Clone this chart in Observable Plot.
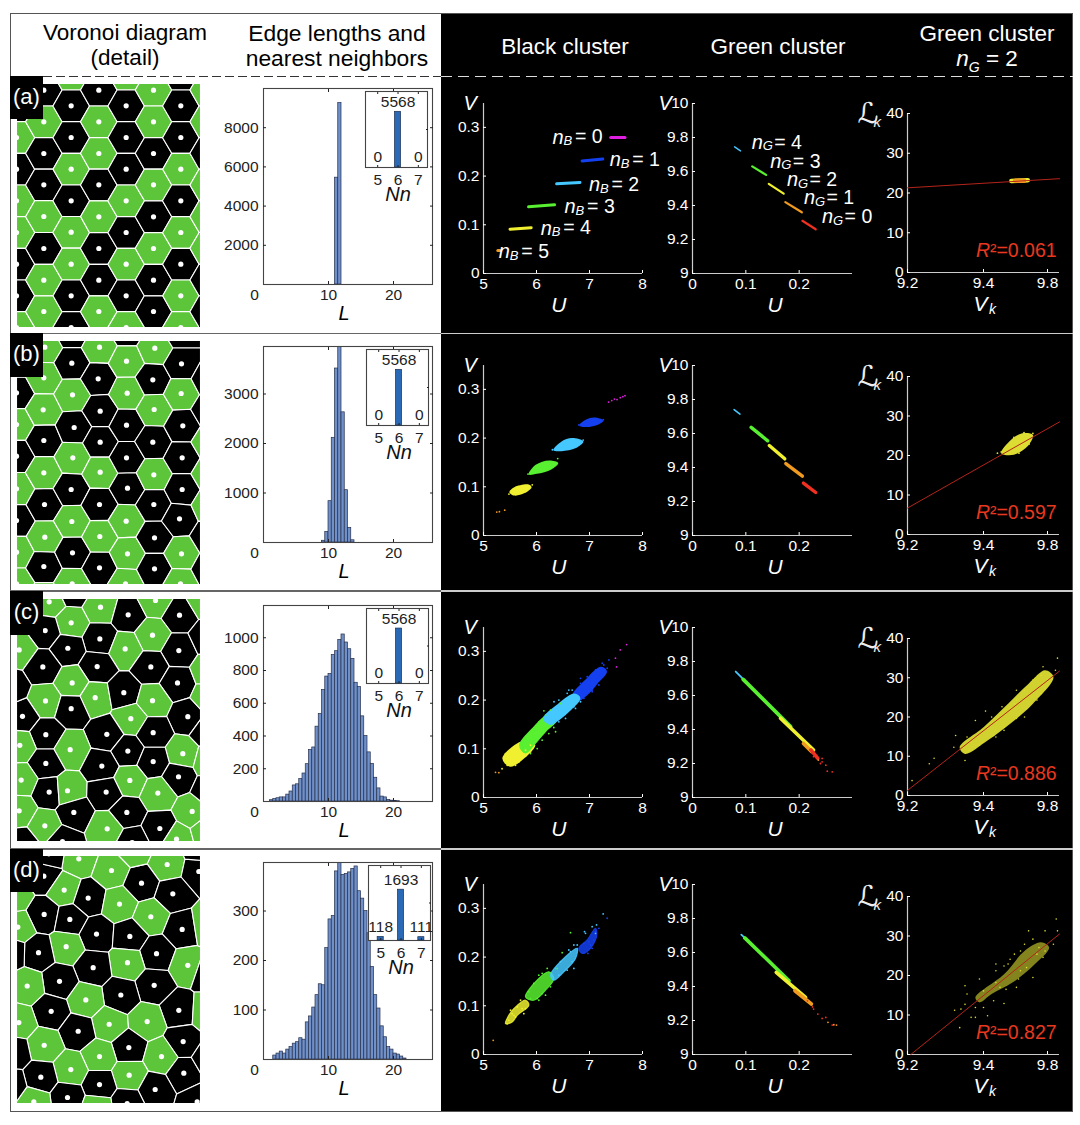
<!DOCTYPE html>
<html><head><meta charset="utf-8">
<script src="https://cdn.jsdelivr.net/npm/d3@7"></script>
<script src="https://cdn.jsdelivr.net/npm/@observablehq/plot@0.6"></script>
<style>
html,body{margin:0;padding:0;background:#fff}
#fig{position:relative;width:1080px;height:1125px;overflow:hidden;font-family:"Liberation Sans",Arial,sans-serif}
#fig>svg{position:absolute}
.box{position:absolute}
.hd{position:absolute;text-align:center;font-size:22.5px;line-height:25px;transform:translateX(-50%);white-space:nowrap}
.tag{position:absolute;left:10px;width:33px;background:#000;color:#fff;font-size:22px;text-align:center;padding-top:8px;box-sizing:border-box}
sub{font-size:14px;line-height:0}
</style></head><body><div id="fig"></div>
<script>
/* ---------- Voronoi seeds: [x, y, cluster] ---------- */
const seedsA=[[48,315,"B"],[48,410,"G"],[48,505,"B"],[48,600,"G"],[48,695,"G"],[48,790,"B"],[48,885,"B"],[48,980,"G"],
[130,268,"B"],[130,363,"G"],[130,458,"B"],[130,552,"B"],[130,647,"G"],[130,743,"B"],[130,838,"G"],[130,932,"G"],
[212,220,"G"],[212,315,"B"],[212,410,"B"],[212,505,"G"],[212,600,"B"],[212,694,"G"],[212,790,"G"],[212,885,"B"],[212,980,"B"],
[295,268,"B"],[295,363,"G"],[295,458,"G"],[295,552,"B"],[295,648,"G"],[295,743,"B"],[295,838,"B"],[295,932,"G"],
[377,220,"G"],[377,315,"B"],[377,410,"B"],[377,505,"B"],[377,600,"G"],[377,695,"B"],[377,790,"G"],[377,885,"B"],[377,980,"G"],
[459,268,"G"],[459,363,"G"],[459,458,"B"],[459,552,"G"],[459,648,"B"],[459,743,"G"],[459,838,"B"],[459,932,"B"],
[541,220,"B"],[541,315,"B"],[541,410,"B"],[541,505,"G"],[541,600,"B"],[541,695,"G"],[541,790,"B"],[541,885,"G"],[541,980,"G"],
[623,268,"G"],[623,363,"G"],[623,458,"B"],[623,552,"G"],[623,647,"G"],[623,743,"G"],[623,838,"B"],[623,932,"B"]];
const seedsB=[[48,78,"G"],[48,172,"B"],[48,267,"G"],[48,362,"B"],[48,460,"G"],[48,555,"B"],[48,650,"G"],[48,745,"G"],
[133,35,"G"],[130,127,"G"],[128,223,"G"],[130,315,"B"],[130,412,"G"],[132,507,"B"],[133,605,"G"],[130,693,"B"],[130,790,"G"],
[214,-10,"B"],[214,83,"B"],[216,178,"G"],[221,276,"B"],[217,367,"G"],[212,462,"B"],[214,558,"G"],[216,652,"B"],[215,745,"G"],
[297,35,"G"],[293,130,"B"],[299,227,"B"],[299,320,"B"],[299,410,"G"],[297,507,"B"],[298,603,"G"],[297,697,"B"],
[378,-15,"B"],[378,77,"G"],[380,173,"G"],[378,269,"B"],[378,367,"B"],[381,458,"B"],[377,557,"G"],[381,655,"G"],[375,745,"G"],
[463,38,"G"],[457,133,"B"],[461,222,"G"],[457,320,"B"],[460,418,"G"],[460,507,"B"],[462,607,"B"],[462,700,"B"],
[543,-10,"B"],[543,85,"B"],[542,174,"G"],[547,271,"B"],[545,367,"B"],[545,462,"B"],[537,550,"B"],[543,655,"G"],[540,745,"G"],
[625,130,"B"],[625,225,"B"],[625,320,"G"],[625,415,"G"],[625,510,"G"],[625,605,"B"],[625,700,"B"]];
const seedsC=[[146,34,"G"],[300,50,"G"],[383,73,"B"],[465,30,"G"],[537,74,"B"],[212,97,"G"],[134,120,"B"],[298,145,"B"],[456,134,"G"],[202,173,"B"],[374,175,"G"],[535,180,"B"],[56,178,"G"],[127,229,"B"],[290,228,"B"],[451,229,"B"],[215,277,"G"],[531,277,"B"],[135,331,"G"],[284,321,"G"],[370,306,"B"],[456,330,"G"],[212,354,"B"],[66,377,"B"],[391,384,"G"],[562,378,"B"],[136,432,"B"],[319,431,"B"],[458,426,"B"],[58,464,"G"],[209,477,"G"],[382,481,"B"],[547,489,"G"],[136,518,"B"],[304,526,"B"],[458,513,"B"],[62,568,"G"],[534,558,"B"],[388,569,"G"],[146,604,"B"],[201,600,"G"],[317,604,"B"],[472,607,"G"],[575,662,"G"],[56,660,"G"],[220,665,"B"],[379,665,"B"],[133,705,"G"],[320,714,"G"],[478,713,"B"],[528,745,"G"],[186,752,"B"],[395,755,"B"],[65,760,"B"],[218,0,"B"],
[620,140,"B"],[625,240,"G"],[625,320,"G"],[620,420,"B"],[625,510,"G"],[625,600,"B"],[620,720,"G"],[30,290,"B"],[30,70,"B"],[610,30,"G"]];
const seedsD=[[235,40,"G"],[333,75,"G"],[500,57,"G"],[595,78,"B"],[423,113,"B"],[130,92,"B"],[191,134,"G"],[517,145,"B"],[263,158,"B"],[357,176,"G"],[131,207,"B"],[208,222,"B"],[451,214,"G"],[52,245,"G"],[288,266,"B"],[388,273,"B"],[545,252,"B"],[197,304,"G"],[114,322,"B"],[468,325,"B"],[381,352,"G"],[562,360,"G"],[278,367,"B"],[177,408,"B"],[80,422,"G"],[461,420,"B"],[361,449,"B"],[256,464,"G"],[535,495,"B"],[152,498,"B"],[55,532,"G"],[326,537,"G"],[440,529,"G"],[233,558,"B"],[548,589,"B"],[131,600,"G"],[385,607,"B"],[483,634,"G"],[297,634,"G"],[211,673,"G"],[386,690,"G"],[121,696,"B"],[550,684,"B"],[297,718,"B"],[464,733,"B"],[201,757,"B"],[100,770,"G"],[380,775,"B"],[290,790,"G"],[590,770,"B"],
[40,620,"B"],[30,720,"B"],[620,240,"G"],[620,380,"B"],[620,500,"G"],[625,640,"B"],[400,10,"G"],[40,150,"G"],[30,320,"B"],[145,25,"B"],[600,10,"B"]];
const voronoiExtent={A:[248,980],B:[15,747],C:[24,752],D:[30,775]};

/* ---------- Edge-length histograms (counts per 0.5-wide bin, by bin start) ---------- */
const binWidth=0.5;
const histA={start:11,counts:[5450,9260]};
const histB={start:9,counts:[35,215,835,2115,3515,3970,2630,1057,296,45]};
const histC={start:1,counts:[8,15,20,25,25,42,61,98,105,137,171,228,314,330,457,534,681,763,779,895,918,987,1020,971,930,871,725,700,520,400,300,230,145,80,30,25,10,5,3,2]};
const histD={start:1.5,counts:[8,12,16,12,20,25,32,35,43,40,75,87,105,130,152,150,225,283,290,380,400,373,375,378,385,390,340,325,300,255,187,130,103,67,45,25,20,12,10,6,2]};
const histTicksA=[2000,4000,6000,8000], histTicksB=[1000,2000,3000], histTicksC=[200,400,600,800,1000], histTicksD=[100,200,300];
const histMax=[10000,3960,1197,398];

/* ---------- Nearest-neighbour insets ---------- */
const nnCategories=[5,6,7];
const nnA=[0,5568,0], nnB=[0,5568,0], nnC=[0,5568,0], nnD=[118,1693,111];
const nnMax=[7600,7600,7600,2500];

/* ---------- Cluster colours ---------- */
const palette={m:"#e020e0",b:"#1440f0",c:"#45c8ff",g:"#58f030",y:"#f0f030",o:"#f09a20",r:"#f03020",ly:"#dcdc32"};

/* ---------- Black cluster (U,V): streaks [cluster,U1,V1,U2,V2], blobs, stragglers [cluster,U,V] ---------- */
const blackStreakA=[["m",7.40,.279,7.67,.279],["b",6.86,.231,7.25,.235],["c",6.38,.184,6.82,.187],["g",5.85,.137,6.34,.141],["y",5.50,.091,5.90,.094],["o",5.27,.047,5.31,.047]];
const blackBlobsB={b:[[6.806,.226],[6.938,.238],[7.093,.242],[7.264,.236],[7.171,.228],[6.938,.2226]],
 c:[[6.318,.175],[6.473,.193],[6.667,.2],[6.884,.193],[6.744,.1795],[6.473,.173]],
 g:[[5.853,.1253],[5.984,.145],[6.24,.154],[6.41,.149],[6.28,.1356],[6.008,.1267]],
 y:[[5.488,.089],[5.581,.0993],[5.853,.1048],[5.907,.0993],[5.775,.087],[5.581,.082]]};
const blackDotsB=[["m",7.36,.274],["m",7.42,.277],["m",7.47,.280],["m",7.52,.279],["m",7.58,.283],["m",7.63,.285],["m",7.67,.287],["o",5.25,.048],["o",5.30,.049],["o",5.40,.052],["g",6.40,.158],["g",5.84,.126],["y",5.48,.085],["y",5.92,.104],["c",6.30,.176],["c",6.88,.196],["b",6.80,.227],["b",7.26,.238]];
const blackBlobsC={y:[[5.384,.080],[5.541,.1004],[5.793,.114],[5.95,.1073],[5.793,.0867],[5.51,.0661]],
 g:[[5.70,.1073],[5.95,.1416],[6.233,.1691],[6.359,.1588],[6.17,.1382],[5.95,.1107],[5.793,.0936]],
 b:[[6.705,.2103],[6.925,.2378],[7.208,.2653],[7.302,.2584],[7.145,.2378],[6.988,.2172],[6.768,.2]],
 c:[[6.151,.1623],[6.422,.1897],[6.705,.2103],[6.80,.2035],[6.642,.1829],[6.422,.1623],[6.265,.152]]};
const blackDotsC=[["m",7.49,.286],["m",7.58,.303],["m",7.70,.314],["m",7.51,.268],["o",5.227,.0516],["o",5.29,.051],["g",6.14,.178],["g",6.36,.135],["g",6.453,.193],["y",5.415,.09],["y",5.447,.066],["y",5.667,.073],["y",5.887,.0935],["y",5.35,.059],["y",5.573,.0764],["b",7.366,.2825],["b",7.27,.272],["b",7.177,.248],["b",6.83,.2447],["b",7.05,.2207],["b",6.925,.2103],["c",6.61,.2206],["c",6.33,.1966],["c",6.705,.1863],
["y",5.478,.0867],["y",5.604,.066],["y",5.699,.0832],["y",5.793,.097],["y",5.415,.0729],["y",5.541,.0936],["y",5.51,.0764],["y",5.887,.1073],
["g",5.793,.121],["g",5.919,.1382],["g",6.044,.1554],["g",6.17,.1691],["g",6.265,.1794],["g",6.107,.1176],["g",6.233,.1313],["g",6.013,.1004],["g",6.327,.1437],["g",5.887,.0901],
["c",6.422,.2],["c",6.579,.2138],["c",6.673,.2206],["c",6.548,.1623],["c",6.736,.1829],["c",6.831,.1966],["c",6.422,.1554],
["b",6.831,.2344],["b",6.956,.2481],["b",7.114,.2619],["b",7.24,.2756],["b",7.177,.231],["b",7.05,.2172],["b",6.894,.2035],["b",7.334,.2653]];
const blackBlobsD={y:[[5.415,.0633],[5.478,.0805],[5.573,.0942],[5.793,.1114],[5.856,.1011],[5.636,.0805],[5.541,.0667]],
 g:[[5.793,.1183],[6.044,.1561],[6.233,.1698],[6.327,.1561],[6.17,.132],[5.95,.1114]],
 c:[[6.265,.1629],[6.548,.2007],[6.768,.2179],[6.736,.1973],[6.516,.1698],[6.327,.1526]],
 b:[[6.799,.2179],[6.956,.2351],[7.114,.2591],[7.133,.2419],[6.988,.2145],[6.862,.2076]]};
const blackDotsD=[["o",5.183,.029],["c",7.258,.2886],["b",7.334,.2797],["c",7.133,.266],["c",6.906,.2522],["g",6.642,.2502],["g",6.485,.209],["b",7.05,.2179],["b",6.969,.2076],["c",6.705,.2248],["c",6.61,.2145],["g",6.044,.1114],["y",5.51,.0908],["y",5.761,.0839],["y",5.447,.0633],["y",5.699,.1114],["g",6.107,.1664],["c",6.705,.1767],["g",6.39,.1767],
["y",5.478,.0702],["y",5.541,.0839],["y",5.604,.077],["y",5.636,.0977],["y",5.73,.0942],["y",5.793,.0942],["y",5.573,.0805],
["g",5.856,.1286],["g",5.95,.1458],["g",6.044,.1629],["g",6.202,.1767],["g",6.265,.1389],["g",6.17,.1217],["g",6.013,.1148],["g",6.107,.1251],["g",5.887,.1148],
["c",6.359,.1767],["c",6.453,.1904],["c",6.642,.211],["c",6.673,.1904],["c",6.579,.1732],["c",6.422,.1629],["c",6.768,.2248],["c",6.925,.2488],["c",7.05,.2625],["c",7.114,.2488],
["b",6.894,.2282],["b",6.988,.2316],["b",7.082,.235],["b",7.019,.2248],["b",7.177,.2591],["b",7.114,.2522]];

/* ---------- Green cluster (U,V) streaks and stragglers ---------- */
const greenStreakA=[["c",.079,9.745,.090,9.721],["g",.112,9.63,.138,9.58],["y",.143,9.527,.171,9.47],["o",.174,9.42,.205,9.36],["r",.206,9.31,.231,9.26]];
const greenStreakB=[["c",.078,9.741,.089,9.714],["g",.110,9.636,.141,9.557],["y",.144,9.529,.173,9.451],["o",.175,9.423,.206,9.349],["r",.208,9.308,.231,9.253]];
const greenStreakC=[["c",.081,9.741,.098,9.688],["g",.095,9.695,.184,9.417],["y",.165,9.466,.227,9.279],["o",.208,9.318,.223,9.27],["r",.222,9.28,.235,9.23]];
const greenStreakD=[["c",.0915,9.705,.098,9.686],["g",.098,9.686,.181,9.434],["y",.157,9.483,.212,9.336],["o",.192,9.375,.223,9.297]];
const greenDotsC=[["r",.243,9.21],["r",.2527,9.155],["r",.262,9.151],["r",.243,9.23],["r",.227,9.24],["r",.25,9.19],["o",.236,9.22],["r",.24,9.2]];
const greenDotsD=[["r",.227,9.267],["r",.243,9.212],["o",.254,9.189],["r",.262,9.173],["o",.27,9.173],["r",.25,9.218],["r",.2155,9.316],["r",.235,9.238],["o",.265,9.175],["r",.225,9.28]];

/* ---------- Green cluster nG=2: Lk against Vk ---------- */
const fitA=[[9.2,21.3],[9.8,23.6]], fitB=[[9.2,6.7],[9.8,28.5]], fitC=[[9.2,1.3],[9.8,31.7]], fitD=[[9.213,0],[9.8,30.5]];
const r2=["0.061","0.597","0.886","0.827"];
const lkStreakA=[["y",9.61,23,9.675,23.2],["o",9.625,23.1,9.66,23.1]];
const lkBlobB=[[9.57,20.6],[9.60,23.4],[9.65,25.6],[9.695,25.2],[9.675,22.4],[9.62,20.2]];
const lkDotsB=[["ly",9.555,20.6],["ly",9.57,20.9],["ly",9.695,25.6],["ly",9.66,25.8],["ly",9.62,24.6],["ly",9.64,20.6],["ly",9.6,20.4],["ly",9.68,22.9]];
const lkBlobC=[[9.406,12.3],[9.5,17.4],[9.597,23.4],[9.678,28.5],[9.743,31.9],[9.776,30.2],[9.695,23.4],[9.614,18.7],[9.516,14],[9.427,10.6]];
const lkDotsC=[[9.218,3.8],[9.286,8.1],[9.305,9.5],[9.39,15.3],[9.383,12.3],[9.427,8.9],[9.508,21.5],[9.622,23.4],[9.735,32.8],[9.792,35],[9.784,31.9],[9.695,29.4],[9.549,14.9],[9.662,20],[9.468,19.1],[9.435,14.9],[9.727,26],[9.532,20],[9.581,16.6],[9.63,26.8],
[9.451,13.6],[9.484,15.7],[9.516,17.4],[9.549,19.1],[9.573,22.6],[9.63,24.3],[9.662,26.8],[9.703,29.8],[9.727,30.6],[9.751,29.4],[9.711,24.3],[9.67,22.1],[9.63,19.6],[9.581,17.4],[9.54,15.3],[9.484,12.8],[9.443,11.5]];
const lkBlobD=[[9.468,14.4],[9.581,20.3],[9.662,26.2],[9.727,28.4],[9.759,27.1],[9.695,22.4],[9.614,18.2],[9.532,15.3],[9.484,13.2]];
const lkDotsD=[[9.406,6.8],[9.386,11.2],[9.427,12.7],[9.427,17.4],[9.484,19.1],[9.516,9.8],[9.581,12.9],[9.549,18.2],[9.549,22.9],[9.605,24.1],[9.662,27.9],[9.787,34.3],[9.678,31.3],[9.743,31.3],[9.792,31.3],[9.776,27.9],[9.468,11.9],[9.5,16.1],[9.565,17],[9.695,19.5],[9.63,17],[9.646,21.2],[9.451,9.4],[9.597,22.9],[9.711,25.4],[9.743,26.2],
[9.549,21.2],[9.581,22.4],[9.622,25.4],[9.646,26.2],[9.695,29.2],[9.719,27.1],[9.735,24.6],[9.67,22],[9.638,19.1],[9.589,16.5],[9.54,13.6],[9.5,11.9],[9.435,15.3],[9.411,11.5],[9.468,9.4]];

/* ---------- Legend text in panel (a): [U, V, number] ---------- */
const labelsBlack=[[6.30,.28,"0"],[7.38,.2335,"1"],[6.99,.183,"2"],[6.53,.137,"3"],[6.08,.093,"4"],[5.29,.045,"5"]];
const labelsGreen=[[.111,9.772,"4"],[.146,9.66,"3"],[.177,9.55,"2"],[.209,9.444,"1"],[.243,9.334,"0"]];

/* ---------- Axis ticks ---------- */
const tU=[5,6,7,8], tV=[0,.1,.2,.3], tU2=[0,.1,.2], tV2=[9,9.2,9.4,9.6,9.8,10], tL=[0,10,20,30,40];
const tags=["(a)","(b)","(c)","(d)"];

/* ---------- Layout ---------- */
const fig=document.getElementById("fig");
const FF='"Liberation Sans",Arial,sans-serif';
function mount(opts,left,top,color,overflow="visible"){
  const ml=opts.marginLeft,mt=opts.marginTop;
  const svg=Plot.plot({...opts,width:opts.innerW+ml+opts.marginRight,height:opts.innerH+mt+opts.marginBottom,
    style:{background:"transparent",fontFamily:FF,color:color,overflow}});
  svg.style.left=(left-ml)+"px"; svg.style.top=(top-mt)+"px";
  fig.appendChild(svg); return svg;
}
function div(cls,css,html){const d=document.createElement("div");d.className=cls;d.style.cssText=css;if(html)d.innerHTML=html;fig.appendChild(d);return d;}

/* backgrounds and rules */
div("box","left:441px;top:13px;width:632px;height:1099px;background:#000");
div("box","left:10px;top:13px;width:1063px;height:1099px;border:1px solid #555;box-sizing:border-box");
[332.5,590,848].forEach(y=>{
  div("box",`left:10px;top:${y}px;width:431px;height:1.5px;background:#666`);
  div("box",`left:441px;top:${y}px;width:632px;height:1.5px;background:#ccc`);
});
div("box","left:43px;top:75.5px;width:398px;height:1.5px;background:repeating-linear-gradient(90deg,#333 0 9px,transparent 9px 13px)");
div("box","left:441px;top:75.5px;width:632px;height:1.5px;background:repeating-linear-gradient(90deg,#ddd 0 11px,transparent 11px 17px)");

/* column heads */
div("hd","left:125px;top:20px;color:#000","Voronoi diagram<br>(detail)");
div("hd","left:337px;top:21px;color:#000;font-size:22.8px","Edge lengths and<br>nearest neighbors");
div("hd","left:565px;top:34px;color:#fff","Black cluster");
div("hd","left:778px;top:34px;color:#fff","Green cluster");
div("hd","left:987px;top:21px;color:#fff","Green cluster<br><i>n<sub>G</sub></i> = 2");

/* rows */
const voronoiTop=[83,340,598,855], voronoiH=[244,244,243,248];
const seedSets=[seedsA,seedsB,seedsC,seedsD], vExt=[voronoiExtent.A,voronoiExtent.B,voronoiExtent.C,voronoiExtent.D];
const histSets=[histA,histB,histC,histD], histTicks=[histTicksA,histTicksB,histTicksC,histTicksD];
const histTop=[88,346,605,862], histBottom=[284,542,801,1059];
const insetTop=[91,349,608,865], insetH=[76,76,75,75], insetLeft=[365,366,366,368];
const nnSets=[nnA,nnB,nnC,nnD];
const tagTop=[76,333,591,849], tagH=[43,44,44,43];
const rowZero=[273,535,797,1054];
const lkZero=[272,534,795,1054], lkH=[159,158,157,158];
const rows=[0,1,2,3];
const obj3=([k,x,y])=>({k,x,y});
const obj5=([k,x1,y1,x2,y2])=>({k,x1,y1,x2,y2});
const xy=([x,y])=>({x,y});
const streak=(arr,w,wc=w)=>Plot.link(arr.map(obj5),{x1:"x1",y1:"y1",x2:"x2",y2:"y2",stroke:d=>palette[d.k],strokeWidth:d=>d.k==="c"?wc:w,strokeLinecap:"round"});
const dots=(arr,r=.9)=>Plot.dot(arr.map(obj3),{x:"x",y:"y",r,fill:d=>palette[d.k]});
const blobs=(b,op=1,sw=0)=>Object.entries(b).map(([k,pts])=>Plot.line(pts.map(xy),{x:"x",y:"y",fill:palette[k],fillOpacity:op,stroke:sw?palette[k]:"none",strokeWidth:sw,strokeOpacity:op,curve:"catmull-rom-closed"}));
const FS=15.5;
const cluster=(sub,arr)=>[
  Plot.text(arr,{x:d=>d[0],y:d=>d[1],text:()=>"n",fontSize:20,fontStyle:"italic",textAnchor:"start",fill:"#fff"}),
  Plot.text(arr,{x:d=>d[0],y:d=>d[1],text:()=>sub,fontSize:13,fontStyle:"italic",textAnchor:"start",dx:11,dy:4,fill:"#fff"}),
  Plot.text(arr,{x:d=>d[0],y:d=>d[1],text:d=>"= "+d[2],fontSize:19.5,textAnchor:"start",dx:22.5,fill:"#fff"})];
const spines=(xd,yd)=>[Plot.ruleX([xd],{stroke:"#ccc",strokeWidth:1.2}),Plot.ruleY([yd],{stroke:"#ccc",strokeWidth:1.2})];
const mid={lineAnchor:"middle"};

rows.forEach(i=>{
  /* Voronoi */
  const seeds=seedSets[i].map(([x,y,c])=>({x,y,c}));
  mount({marginLeft:0,marginRight:0,marginTop:0,marginBottom:0,innerW:184,innerH:voronoiH[i],
    x:{domain:[48,600],range:[0,184],axis:null},y:{domain:vExt[i],range:[0,voronoiH[i]],axis:null},
    color:{domain:["G","B"],range:["#5cc53a","#000"]},
    marks:[Plot.voronoi(seeds,{x:"x",y:"y",fill:"c",stroke:"#fff",strokeWidth:1.1,strokeOpacity:1}),
           Plot.dot(seeds,{x:"x",y:"y",r:2.6,fill:"#fff"})]},16,voronoiTop[i],"#000","hidden");

  /* tag */
  div("tag",`top:${tagTop[i]}px;height:${tagH[i]}px`,tags[i]);

  /* Histogram */
  const h=histSets[i];
  const bins=h.counts.map((n,j)=>({L:h.start+j*binWidth,n}));
  const hH=histBottom[i]-histTop[i];
  mount({marginLeft:48,marginRight:6,marginTop:4,marginBottom:44,innerW:169,innerH:hH,
    x:{domain:[0,26],axis:null},y:{domain:[0,histMax[i]],axis:null},
    marks:[
      Plot.rectY(bins,{x1:"L",x2:d=>d.L+binWidth,y:"n",fill:"#6f90c9",stroke:"#27304a",strokeWidth:.7,clip:true}),
      Plot.frame({stroke:"#444",strokeWidth:1.1}),
      Plot.axisY(histTicks[i],{tickSize:-3,tickPadding:8,fontSize:FS,label:null,tickFormat:d=>String(d)}),
      Plot.axisY(histTicks[i],{anchor:"right",tickSize:-3,tickFormat:()=>"",label:null}),
      Plot.axisX([10,20],{tickSize:-3,tickPadding:7,fontSize:FS,label:null}),
      Plot.axisX([0],{tickSize:0,tickPadding:4,dx:-9,fontSize:FS,label:null}),
      Plot.axisX([10,20],{anchor:"top",tickSize:-3,tickFormat:()=>"",label:null}),
      Plot.text(["L"],{x:12.4,frameAnchor:"bottom",dy:29,fontSize:20,fontStyle:"italic",fill:"#000",...mid})
    ]},263,histTop[i],"#222");

  /* Nn inset */
  const nn=nnSets[i].map((n,j)=>({k:nnCategories[j],n}));
  mount({marginLeft:12,marginRight:12,marginTop:2,marginBottom:40,innerW:62,innerH:insetH[i],
    x:{domain:[4.4,7.45],axis:null},y:{domain:[0,nnMax[i]],axis:null},
    marks:[
      Plot.frame({fill:"#fff",stroke:"#444",strokeWidth:1.1}),
      Plot.rectY(nn,{x1:d=>d.k-.15,x2:d=>d.k+.15,y:"n",fill:"#2a69b5",stroke:"#1d2f4f",strokeWidth:.7}),
      Plot.text(nn,{x:"k",y:"n",text:d=>String(d.n),dy:-10,fontSize:FS,fill:"#222"}),
      Plot.axisX(nnCategories,{tickSize:-2,tickPadding:8,fontSize:FS,label:null}),
      Plot.axisX(nnCategories,{anchor:"top",tickSize:-2,tickFormat:()=>"",label:null}),
      Plot.axisY([nnMax[i]/2],{anchor:"right",tickSize:-2,tickFormat:()=>"",label:null}),
      Plot.text(["Nn"],{x:6,frameAnchor:"bottom",dy:27,fontSize:20,fontStyle:"italic",fill:"#111",...mid})
    ]},insetLeft[i],insetTop[i],"#222");

  /* Black cluster */
  const blackMarks=[[streak(blackStreakA,3),...cluster("B",labelsBlack)],
    [...blobs(blackBlobsB),dots(blackDotsB)],
    [...blobs(blackBlobsC,1,3),dots(blackDotsC)],
    [...blobs(blackBlobsD,.85,1.2),dots(blackDotsD)]][i];
  mount({marginLeft:42,marginRight:24,marginTop:20,marginBottom:46,innerW:159,innerH:170,
    x:{domain:[5,8],axis:null},y:{domain:[0,.349],axis:null},
    marks:[...spines(5,0),
      Plot.axisY(tV,{tickSize:-3,tickPadding:7,fontSize:FS,label:null,tickFormat:d=>String(d)}),
      Plot.axisX(tU,{tickSize:-3,tickPadding:7,fontSize:FS,label:null}),
      ...blackMarks,
      Plot.text(["V"],{frameAnchor:"top-left",dx:-20,fontSize:20,fontStyle:"italic",fill:"#fff",...mid}),
      Plot.text(["U"],{x:6.42,frameAnchor:"bottom",dy:32,fontSize:21,fontStyle:"italic",fill:"#fff",...mid})
    ]},483,rowZero[i]-170,"#fff");

  /* Green cluster */
  const greenMarks=[[streak(greenStreakA,2.2,1.4),...cluster("G",labelsGreen)],
    [streak(greenStreakB,3.4,1.6)],
    [streak(greenStreakC,3.6,1.8),dots(greenDotsC)],
    [streak(greenStreakD,3.6,1.8),dots(greenDotsD)]][i];
  mount({marginLeft:42,marginRight:24,marginTop:20,marginBottom:46,innerW:160,innerH:170,
    x:{domain:[0,.3],axis:null},y:{domain:[9,10],axis:null},
    marks:[...spines(0,9),
      Plot.axisY(tV2,{tickSize:-3,tickPadding:7,fontSize:FS,label:null,tickFormat:d=>String(d)}),
      Plot.axisX(tU2,{tickSize:-3,tickPadding:7,fontSize:FS,label:null,tickFormat:d=>String(d)}),
      ...greenMarks,
      Plot.text(["V"],{frameAnchor:"top-left",dx:-34,fontSize:20,fontStyle:"italic",fill:"#fff",...mid}),
      Plot.text(["U"],{x:.155,frameAnchor:"bottom",dy:32,fontSize:21,fontStyle:"italic",fill:"#fff",...mid})
    ]},692,rowZero[i]-170,"#fff");

  /* Lk vs Vk */
  const fit=[fitA,fitB,fitC,fitD][i].map(xy);
  const lkMarks=[[streak(lkStreakA,4.5)],
    [...blobs({ly:lkBlobB}),Plot.dot(lkDotsB.map(obj3),{x:"x",y:"y",r:.9,fill:palette.ly})],
    [...blobs({ly:lkBlobC},.95),Plot.dot(lkDotsC.map(xy),{x:"x",y:"y",r:.8,fill:palette.ly})],
    [...blobs({ly:lkBlobD},.6),Plot.dot(lkDotsD.map(xy),{x:"x",y:"y",r:.8,fill:palette.ly})]][i];
  mount({marginLeft:50,marginRight:10,marginTop:20,marginBottom:46,innerW:152,innerH:lkH[i],
    x:{domain:[9.2,9.8],axis:null},y:{domain:[0,40],axis:null},
    marks:[...spines(9.2,0),
      Plot.axisY(tL,{tickSize:-3,tickPadding:7,fontSize:FS,label:null}),
      Plot.axisX([9.2,9.5],{tickSize:-3,tickPadding:7,fontSize:FS,label:null,tickFormat:d=>d===9.5?"9.4":"9.2"}),
      Plot.axisX([9.8],{tickSize:-3,tickPadding:7,fontSize:FS,label:null,tickFormat:()=>"9.8",dx:-12}),
      ...lkMarks,
      Plot.line(fit,{x:"x",y:"y",stroke:"#b4241a",strokeWidth:1}),
      Plot.text(["ℒ"],{frameAnchor:"top-left",dx:-50,dy:0,fontSize:29,fontFamily:"DejaVu Sans",fill:"#eee",...mid}),
      Plot.text(["k"],{frameAnchor:"top-left",dx:-34,dy:9,fontSize:15,fontStyle:"italic",fill:"#eee",textAnchor:"start",...mid}),
      Plot.text(["V"],{x:9.5,frameAnchor:"bottom",dy:32,fontSize:21,fontStyle:"italic",fill:"#fff",dx:-3,...mid}),
      Plot.text(["k"],{x:9.5,frameAnchor:"bottom",dy:37,fontSize:14,fontStyle:"italic",fill:"#fff",dx:9,...mid}),
      Plot.text(["R"],{x:9.47,y:5.5,fontSize:19.5,fontStyle:"italic",fill:"#e8381f",textAnchor:"start"}),
      Plot.text([r2[i]],{x:9.47,y:5.5,text:d=>"²="+d,fontSize:19.5,fill:"#e8381f",textAnchor:"start",dx:14})
    ]},907,lkZero[i]-lkH[i],"#fff");
});
</script></body></html>
